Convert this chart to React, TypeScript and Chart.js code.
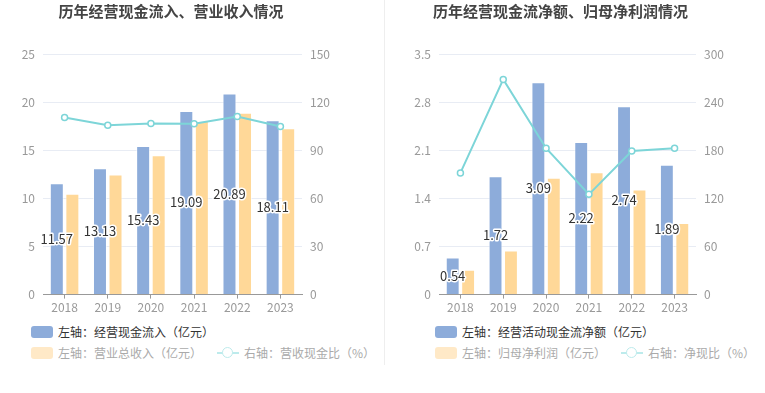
import React, { useEffect, useRef } from "react";
import { Chart, registerables } from "chart.js";

Chart.register(...registerables);

const years = ["2018", "2019", "2020", "2021", "2022", "2023"];

// Left chart
const leftTitle = "历年经营现金流入、营业收入情况";
const leftInflow = [11.57, 13.13, 15.43, 19.09, 20.89, 18.11];
const leftRevenue = [10.49, 12.47, 14.48, 18.05, 18.89, 17.29];
const leftRatio = [110.4, 105.6, 106.7, 106.5, 111.0, 104.8];
const leftLegend = ["左轴：经营现金流入（亿元）", "左轴：营业总收入（亿元）", "右轴：营收现金比（%）"];

// Right chart
const rightTitle = "历年经营现金流净额、归母净利润情况";
const rightNetCash = [0.54, 1.72, 3.09, 2.22, 2.74, 1.89];
const rightProfit = [0.36, 0.64, 1.7, 1.78, 1.53, 1.04];
const rightRatio = [151.7, 268.3, 182.5, 125.0, 179.0, 182.5];
const rightLegend = ["左轴：经营活动现金流净额（亿元）", "左轴：归母净利润（亿元）", "右轴：净现比（%）"];

const FONT = '"Noto Sans CJK SC", "Noto Sans", sans-serif';
const BLUE = "#8DACDA";
const ORANGE = "#FFD898";
const TEAL = "#7DD5D8";

const barLabelPlugin = {
  id: "barLabels",
  afterDatasetsDraw(chart: any) {
    const meta = chart.getDatasetMeta(0);
    const data = chart.data.datasets[0].data;
    const ctx = chart.ctx;
    ctx.save();
    ctx.font = `13px ${FONT}`;
    ctx.textAlign = "center";
    ctx.textBaseline = "middle";
    ctx.lineJoin = "round";
    ctx.lineWidth = 3;
    ctx.strokeStyle = "#fff";
    ctx.fillStyle = "#333";
    meta.data.forEach((bar: any, i: number) => {
      const p = bar.getProps(["x", "y", "base"], true);
      const cy = (p.y + p.base) / 2;
      const t = data[i].toFixed(2);
      ctx.strokeText(t, p.x, cy);
      ctx.fillText(t, p.x, cy);
    });
    ctx.restore();
  },
};

function Panel(props: any) {
  const ref = useRef<HTMLCanvasElement>(null);
  useEffect(() => {
    const c = new Chart(ref.current!, {
      type: "bar",
      data: {
        labels: years,
        datasets: [
          {
            type: "bar",
            data: props.bars1,
            backgroundColor: BLUE,
            borderColor: "rgba(255,255,255,0.6)",
            borderWidth: 1,
            yAxisID: "y",
            order: 2,
            categoryPercentage: 0.72,
            barPercentage: 0.9,
          },
          {
            type: "bar",
            data: props.bars2,
            backgroundColor: ORANGE,
            borderColor: "rgba(255,255,255,0.6)",
            borderWidth: 1,
            yAxisID: "y",
            order: 2,
            categoryPercentage: 0.72,
            barPercentage: 0.9,
          },
          {
            type: "line",
            data: props.line,
            borderColor: TEAL,
            borderWidth: 2,
            pointRadius: 3,
            pointBorderWidth: 1.5,
            pointBackgroundColor: "#fff",
            pointBorderColor: TEAL,
            yAxisID: "y1",
            order: 0,
            tension: 0,
          },
        ] as any,
      },
      options: {
        animation: false,
        responsive: false,
        layout: { padding: { left: props.padLeft, right: props.padRight, top: 0, bottom: 4 } },
        plugins: {
          legend: { display: false },
          tooltip: { enabled: false },
          title: {
            display: true,
            text: props.title,
            color: "#444",
            font: { family: FONT, size: 15, weight: "bold" },
            padding: { top: 2, bottom: 34 },
          },
        },
        scales: {
          x: {
            grid: {
              offset: false,
              drawOnChartArea: false,
              drawTicks: true,
              tickLength: 4,
              color: "#999",
            },
            border: { color: "#999" },
            ticks: { color: "#999", font: { family: FONT, size: 12 }, padding: 2 },
          },
          y: {
            position: "left",
            min: 0,
            max: props.leftMax,
            afterFit: (s: any) => { s.width = props.leftWidth; },
            ticks: {
              stepSize: props.leftStep,
              color: "#999",
              font: { family: FONT, size: 12 },
              padding: 8,
              callback: (v: any) => String(Number(Number(v).toFixed(1))),
            },
            grid: { color: "#E8ECF4", drawTicks: false },
            border: { display: false },
          },
          y1: {
            position: "right",
            min: 0,
            max: props.rightMax,
            afterFit: (s: any) => { s.width = 40; },
            ticks: {
              stepSize: props.rightStep,
              color: "#999",
              font: { family: FONT, size: 12 },
              padding: 8,
            },
            grid: { drawOnChartArea: false, drawTicks: false },
            border: { display: false },
          },
        },
      } as any,
      plugins: [barLabelPlugin],
    });
    return () => c.destroy();
  }, []);

  const legendText = { fontFamily: FONT, fontSize: 12, whiteSpace: "nowrap" as const };
  return (
    <div style={{ position: "relative", width: props.width, height: 393, ...props.style }}>
      <canvas ref={ref} width={props.width} height={321} style={{ display: "block" }} />
      <div style={{ position: "absolute", left: props.legendLeft, top: 323, display: "flex", alignItems: "center" }}>
        <div style={{ width: 22, height: 12, borderRadius: 3, background: BLUE, marginRight: 5 }} />
        <span style={{ ...legendText, color: "#333" }}>{props.legend[0]}</span>
      </div>
      <div style={{ position: "absolute", left: props.legendLeft, top: 344, display: "flex", alignItems: "center" }}>
        <div style={{ width: 22, height: 12, borderRadius: 3, background: "#FFE9C7", marginRight: 5 }} />
        <span style={{ ...legendText, color: "#aaa", marginRight: 15 }}>{props.legend[1]}</span>
        <div style={{ position: "relative", width: 22, height: 12, marginRight: 5 }}>
          <div style={{ position: "absolute", left: 0, top: 5, width: 22, height: 2, background: "#BDEBEC" }} />
          <div style={{ position: "absolute", left: 5, top: 0, width: 9, height: 9, borderRadius: "50%", border: "1.5px solid #BDEBEC", background: "#fff" }} />
        </div>
        <span style={{ ...legendText, color: "#aaa" }}>{props.legend[2]}</span>
      </div>
    </div>
  );
}

export default function App() {
  useEffect(() => {
    document.body.style.margin = "0";
  }, []);
  return (
    <div style={{ display: "flex", width: 765, height: 393, background: "#fff" }}>
      <Panel
        width={384}
        style={{ borderRight: "1px solid #EEEEEE", height: 365 }}
        title={leftTitle}
        bars1={leftInflow}
        bars2={leftRevenue}
        line={leftRatio}
        leftMax={25}
        leftStep={5}
        rightMax={150}
        rightStep={30}
        leftWidth={43}
        padLeft={0}
        padRight={42}
        legend={leftLegend}
        legendLeft={31}
      />
      <Panel
        width={380}
        title={rightTitle}
        bars1={rightNetCash}
        bars2={rightProfit}
        line={rightRatio}
        leftMax={3.5}
        leftStep={0.7}
        rightMax={300}
        rightStep={60}
        leftWidth={54}
        padLeft={0}
        padRight={29}
        legend={rightLegend}
        legendLeft={50}
      />
    </div>
  );
}
